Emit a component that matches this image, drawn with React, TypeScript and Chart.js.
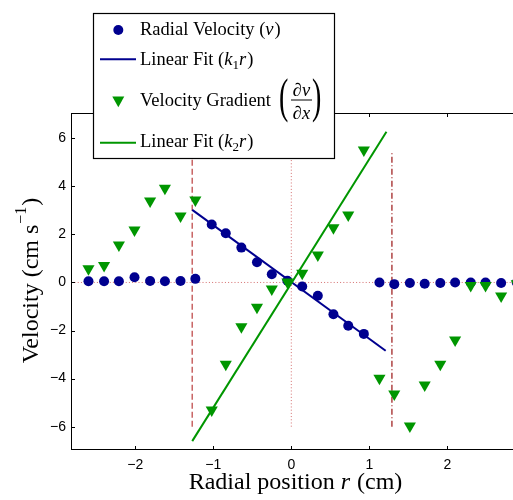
import React, { useEffect, useRef } from 'react';
import { Chart, registerables } from 'chart.js';

Chart.register(...registerables);

// ---- data ----
const radialPosition = [
  -2.6, -2.4, -2.21, -2.01, -1.81, -1.62, -1.42, -1.23,
  -1.02, -0.84, -0.64, -0.44, -0.25, -0.05, 0.14, 0.34, 0.54, 0.73, 0.93,
  1.13, 1.32, 1.52, 1.71, 1.91, 2.1, 2.3, 2.49, 2.69, 2.89,
];
const radialVelocity = [
  0.05, 0.05, 0.05, 0.22, 0.06, 0.05, 0.06, 0.15,
  2.41, 2.05, 1.45, 0.84, 0.34, 0.07, -0.17, -0.55, -1.32, -1.8, -2.14,
  0.0, -0.07, -0.02, -0.05, -0.02, 0.0, 0.0, 0.0, -0.02, 0.0,
];
const velocityGradient = [
  0.57, 0.71, 1.56, 2.18, 3.39, 3.92, 2.77, 3.43,
  -5.31, -3.4, -1.84, -1.03, -0.27, 0.02, 0.38, 1.14, 2.28, 2.81, 5.51,
  -3.99, -4.64, -5.97, -4.27, -3.4, -2.39, -0.13, -0.13, -0.56, -0.05,
];
const fit1X = [-1.27, 1.21];
const fit1Y = [3.02, -2.84];
const fit2X = [-1.27, 1.22];
const fit2Y = [-6.6, 6.27];
const leftBoundaryX = [-1.27, -1.27];
const rightBoundaryX = [1.29, 1.29];
const boundaryY = [-6, 5.38];
const centerLineX = [0, 0];
const zeroLineX = [-2.82, 2.84];
const zeroLineY = [0, 0];
const xTickStep = 1;
const yTickStep = 2;

const BLUE = '#00008f';
const GREEN = '#009600';
const SERIF = '"Liberation Serif", "DejaVu Serif", serif';

const pts = (xs: number[], ys: number[]) => xs.map((x, i) => ({ x, y: ys[i] }));
const fmt = (v: any) => (Number(v) < 0 ? '\u2212' + Math.abs(Number(v)) : String(v));

type Run = { t: string; font: string; dy?: number; gap?: number };
function drawRuns(ctx: CanvasRenderingContext2D, runs: Run[], x: number, y: number, align: 'left' | 'center') {
  const widths = runs.map((r) => {
    ctx.font = r.font;
    return ctx.measureText(r.t).width + (r.gap || 0);
  });
  const total = widths.reduce((a, b) => a + b, 0);
  let cx = align === 'center' ? x - total / 2 : x;
  runs.forEach((r, i) => {
    ctx.font = r.font;
    ctx.fillText(r.t, cx, y + (r.dy || 0));
    cx += widths[i];
  });
}

const decorPlugin = {
  id: 'decor',
  afterDraw(chart: any) {
    const ctx: CanvasRenderingContext2D = chart.ctx;
    const { left, right, top, bottom } = chart.chartArea;
    const xs = chart.scales.x;
    const ys = chart.scales.y;
    ctx.save();
    // axes box (left, top, bottom)
    ctx.strokeStyle = '#000';
    ctx.lineWidth = 1;
    ctx.setLineDash([]);
    ctx.beginPath();
    ctx.moveTo(left + 0.5, top);
    ctx.lineTo(left + 0.5, bottom);
    ctx.moveTo(left, bottom - 0.5);
    ctx.lineTo(right, bottom - 0.5);
    ctx.moveTo(left, top + 0.5);
    ctx.lineTo(right, top + 0.5);
    xs.ticks.forEach((t: any) => {
      const px = Math.round(xs.getPixelForValue(t.value)) + 0.5;
      ctx.moveTo(px, bottom);
      ctx.lineTo(px, bottom - 4);
      ctx.moveTo(px, top);
      ctx.lineTo(px, top + 4);
    });
    ys.ticks.forEach((t: any) => {
      const py = Math.round(ys.getPixelForValue(t.value)) + 0.5;
      ctx.moveTo(left, py);
      ctx.lineTo(left + 4, py);
    });
    ctx.stroke();

    // axis titles
    ctx.fillStyle = '#000';
    ctx.textBaseline = 'alphabetic';
    drawRuns(
      ctx,
      [
        { t: 'Radial position ', font: `24px ${SERIF}` },
        { t: 'r', font: `italic 24px ${SERIF}`, gap: 1 },
        { t: ' (cm)', font: `24px ${SERIF}` },
      ],
      295.5,
      489,
      'center'
    );
    ctx.save();
    ctx.translate(37.7, 280.5);
    ctx.rotate(-Math.PI / 2);
    drawRuns(
      ctx,
      [
        { t: 'Velocity (cm s', font: `24px ${SERIF}`, gap: 1 },
        { t: '\u22121', font: `16px ${SERIF}`, dy: -12, gap: 1 },
        { t: ')', font: `24px ${SERIF}` },
      ],
      0,
      0,
      'center'
    );
    ctx.restore();

    // legend
    const bx = 93.5, by = 13.5, bw = 241, bh = 145;
    ctx.fillStyle = '#fff';
    ctx.fillRect(bx, by, bw, bh);
    ctx.strokeStyle = '#000';
    ctx.lineWidth = 1.2;
    ctx.strokeRect(bx, by, bw, bh);

    // markers
    ctx.fillStyle = BLUE;
    ctx.beginPath();
    ctx.arc(118.3, 30, 5, 0, Math.PI * 2);
    ctx.fill();
    ctx.strokeStyle = BLUE;
    ctx.lineWidth = 2;
    ctx.beginPath();
    ctx.moveTo(100, 59.3);
    ctx.lineTo(136, 59.3);
    ctx.stroke();
    ctx.fillStyle = GREEN;
    ctx.beginPath();
    ctx.moveTo(112.3, 96.6);
    ctx.lineTo(124.3, 96.6);
    ctx.lineTo(118.3, 107.3);
    ctx.closePath();
    ctx.fill();
    ctx.strokeStyle = GREEN;
    ctx.beginPath();
    ctx.moveTo(100, 142.7);
    ctx.lineTo(136, 142.7);
    ctx.stroke();

    // legend texts
    ctx.fillStyle = '#000';
    const f = `18.5px ${SERIF}`;
    const fi = `italic 18.5px ${SERIF}`;
    const fs = `13px ${SERIF}`;
    drawRuns(ctx, [
      { t: 'Radial Velocity (', font: f },
      { t: 'v', font: fi, gap: 1 },
      { t: ')', font: f },
    ], 140, 34.5, 'left');
    drawRuns(ctx, [
      { t: 'Linear Fit (', font: f },
      { t: 'k', font: fi },
      { t: '1', font: fs, dy: 3.5 },
      { t: 'r', font: fi, gap: 1 },
      { t: ')', font: f },
    ], 140, 65, 'left');
    drawRuns(ctx, [{ t: 'Velocity Gradient', font: f }], 140, 106, 'left');
    drawRuns(ctx, [
      { t: 'Linear Fit (', font: f },
      { t: 'k', font: fi },
      { t: '2', font: fs, dy: 3.5 },
      { t: 'r', font: fi, gap: 1 },
      { t: ')', font: f },
    ], 140, 147, 'left');

    // fraction dv/dx with big parentheses
    ctx.save();
    ctx.font = `28px ${SERIF}`;
    ctx.translate(279, 112);
    ctx.scale(1, 1.75);
    ctx.fillText('(', 0, 0);
    ctx.restore();
    ctx.save();
    ctx.font = `28px ${SERIF}`;
    ctx.translate(312, 112);
    ctx.scale(1, 1.75);
    ctx.fillText(')', 0, 0);
    ctx.restore();
    drawRuns(ctx, [
      { t: '\u2202', font: f },
      { t: 'v', font: fi },
    ], 301.5, 95.5, 'center');
    drawRuns(ctx, [
      { t: '\u2202', font: f },
      { t: 'x', font: fi },
    ], 301.5, 119, 'center');
    ctx.strokeStyle = '#000';
    ctx.lineWidth = 1;
    ctx.beginPath();
    ctx.moveTo(291, 100);
    ctx.lineTo(312, 100);
    ctx.stroke();

    ctx.restore();
  },
};

export default function App() {
  const ref = useRef<HTMLCanvasElement | null>(null);

  useEffect(() => {
    if (!ref.current) return;
    const refLine = (xs: number[], ys: number[], color: string, dash: number[], width: number) => ({
      data: pts(xs, ys),
      showLine: true,
      borderColor: color,
      borderWidth: width,
      borderDash: dash,
      pointRadius: 0,
      order: 10,
    });
    const chart = new Chart(ref.current, {
      type: 'scatter',
      data: {
        datasets: [
          refLine(zeroLineX, zeroLineY, '#d46e6e', [1, 2.2], 1),
          refLine(centerLineX, boundaryY, '#d46e6e', [1, 2.2], 1),
          refLine(leftBoundaryX, boundaryY, '#c86464', [6, 3], 1.5),
          refLine(rightBoundaryX, boundaryY, '#9a1414', [6, 2.5, 1, 2.5], 1.2),
          {
            label: 'Radial Velocity',
            data: pts(radialPosition, radialVelocity),
            pointStyle: 'circle',
            pointRadius: 5,
            pointBackgroundColor: BLUE,
            pointBorderWidth: 0,
            showLine: false,
            order: 5,
          },
          {
            label: 'Linear Fit k1',
            data: pts(fit1X, fit1Y),
            showLine: true,
            borderColor: BLUE,
            borderWidth: 2,
            pointRadius: 0,
            order: 4,
          },
          {
            label: 'Velocity Gradient',
            data: pts(radialPosition, velocityGradient),
            pointStyle: 'triangle',
            rotation: 180,
            pointRadius: 7,
            pointBackgroundColor: GREEN,
            pointBorderWidth: 0,
            showLine: false,
            order: 3,
          },
          {
            label: 'Linear Fit k2',
            data: pts(fit2X, fit2Y),
            showLine: true,
            borderColor: GREEN,
            borderWidth: 2,
            pointRadius: 0,
            order: 2,
          },
        ] as any,
      },
      options: {
        animation: false,
        responsive: false,
        devicePixelRatio: 1,
        events: [],
        layout: { autoPadding: false, padding: { top: 113, left: 0, right: 0, bottom: 0 } },
        plugins: { legend: { display: false }, tooltip: { enabled: false } },
        scales: {
          x: {
            type: 'linear',
            min: -2.824,
            max: 2.842,
            grid: { display: false, drawTicks: false },
            border: { display: false },
            ticks: {
              stepSize: xTickStep,
              includeBounds: false,
              padding: 7,
              color: '#000',
              autoSkip: false,
              maxRotation: 0,
              font: { family: '"Liberation Sans", Arial, sans-serif', size: 14 },
              callback: fmt,
            },
            afterFit: (s: any) => {
              s.height = 50;
            },
          },
          y: {
            type: 'linear',
            min: -6.97,
            max: 7.05,
            grid: { display: false, drawTicks: false },
            border: { display: false },
            ticks: {
              stepSize: yTickStep,
              includeBounds: false,
              padding: 5,
              color: '#000',
              font: { family: '"Liberation Sans", Arial, sans-serif', size: 14 },
              callback: fmt,
            },
            afterFit: (s: any) => {
              s.width = 71;
            },
          },
        },
      } as any,
      plugins: [decorPlugin],
    });
    return () => chart.destroy();
  }, []);

  return (
    <div style={{ position: 'absolute', left: 0, top: 0, width: 513, height: 500, background: '#fff' }}>
      <canvas ref={ref} width={513} height={500} style={{ display: 'block' }} />
    </div>
  );
}
